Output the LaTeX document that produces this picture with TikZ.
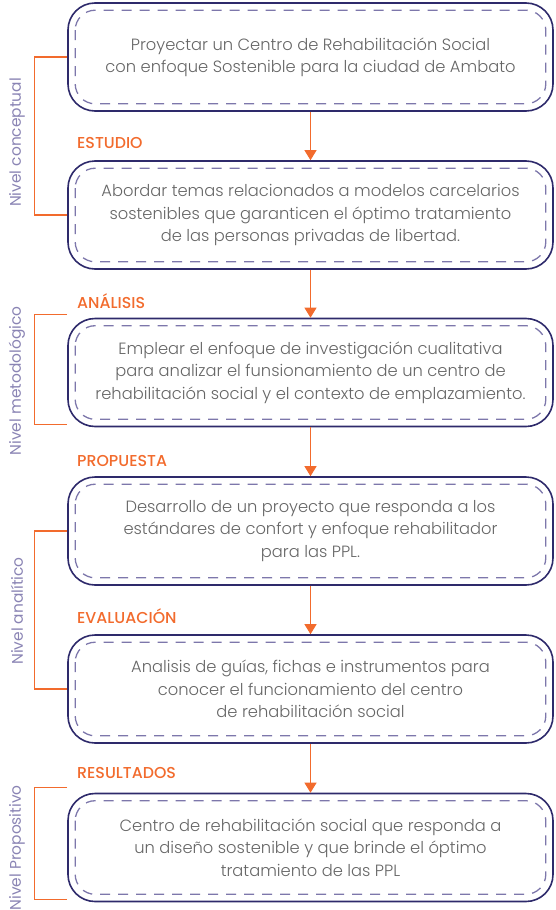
\documentclass[tikz,border=0pt]{standalone}
\usepackage{fontspec}
\newfontfamily\boxfont{Poppins Light}
\newfontfamily\levelfont{Poppins}
\newfontfamily\stagefont{Poppins Medium}
\usetikzlibrary{positioning,arrows.meta}
\definecolor{navy}{HTML}{2E2A6B}
\definecolor{lilac}{HTML}{8A84B4}
\definecolor{dash}{HTML}{7D77AB}
\definecolor{rust}{HTML}{F26B2D}
\definecolor{ink}{HTML}{666666}

\begin{document}
\begin{tikzpicture}[x=1pt,y=-1pt]
	\useasboundingbox (0,0) rectangle (555,910);
	\begin{scope}
		\tikzstyle{every node}=[align=center, inner sep=1pt]
		\tikzstyle{box}=[draw=navy, line width=1.6pt, rounded corners=27pt, minimum width=485pt, minimum height=108pt, text=ink, font=\boxfont\fontsize{16.3}{22.3}\selectfont]
		\tikzstyle{inner}=[draw=dash, line width=1.3pt, dash pattern=on 10pt off 8pt, rounded corners=20pt]
		\tikzstyle{stage}=[anchor=base west, text=rust, font=\stagefont\fontsize{15.8}{18}\selectfont]
		\tikzstyle{level}=[rotate=90, text=lilac, font=\levelfont\fontsize{15.4}{17}\selectfont]
		\tikzstyle{bracket}=[draw=rust, line width=1.1pt]
		\tikzstyle{flow}=[draw=rust, line width=1.1pt, -{Triangle[length=10pt,width=12pt]}]

		\node[box] (b1) at (310.5, 57) {Proyectar un Centro de Rehabilitación Social\\con enfoque Sostenible para la ciudad de Ambato};
		\node[box] (b2) at (310.5, 215) {Abordar temas relacionados a modelos carcelarios\\sostenibles que garanticen el óptimo tratamiento\\de las personas privadas de libertad.};
		\node[box] (b3) at (310.5, 372.5) {Emplear el enfoque de investigación cualitativa\\para analizar el funsionamiento de un centro de\\rehabilitación social y el contexto de emplazamiento.};
		\node[box] (b4) at (310.5, 531) {Desarrollo de un proyecto que responda a los\\estándares de confort y enfoque rehabilitador\\para las PPL.};
		\node[box] (b5) at (310.5, 689) {Analisis de guías, fichas e instrumentos para\\conocer el funcionamiento del centro\\de rehabilitación social};
		\node[box] (b6) at (310.5, 847.5) {Centro de rehabilitación social que responda a\\un diseño sostenible y que brinde el óptimo\\tratamiento de las PPL};

		\foreach \b in {b1,b2,b3,b4,b5,b6}
			\draw[inner] ([shift={(8,8)}]\b.north west) rectangle ([shift={(-8,-8)}]\b.south east);

		\node[stage] (estudio) at (76, 148) {ESTUDIO};
		\node[stage] (analisis) at (76, 308) {ANÁLISIS};
		\node[stage] (propuesta) at (76, 466) {PROPUESTA};
		\node[stage] (evaluacion) at (76, 623) {EVALUACIÓN};
		\node[stage] (resultados) at (76, 778) {RESULTADOS};

		\draw[flow] (b1) -- (b2);
		\draw[flow] (b2) -- (b3);
		\draw[flow] (b3) -- (b4);
		\draw[flow] (b4) -- (b5);
		\draw[flow] (b5) -- (b6);

		\node[level] (conceptual) at (17, 142.5) {Nivel conceptual};
		\node[level] (metodologico) at (17, 381) {Nivel metodológico};
		\node[level] (analitico) at (17, 611) {Nivel analítico};
		\node[level] (propositivo) at (17, 848) {Nivel Propositivo};

		\draw[bracket] (b1.west) -- ++(-33,0) |- (b2.west);
		\draw[bracket] (b3.north west) ++(0,-3) -- ++(-33,0) |- ([yshift=3pt]b3.south west);
		\draw[bracket] (b4.west) -- ++(-33,0) |- (b5.west);
		\draw[bracket] (b6.north west) ++(0,-5) -- ++(-33,0) |- ([yshift=3pt]b6.south west);

	\end{scope}
\end{tikzpicture}
\end{document}
